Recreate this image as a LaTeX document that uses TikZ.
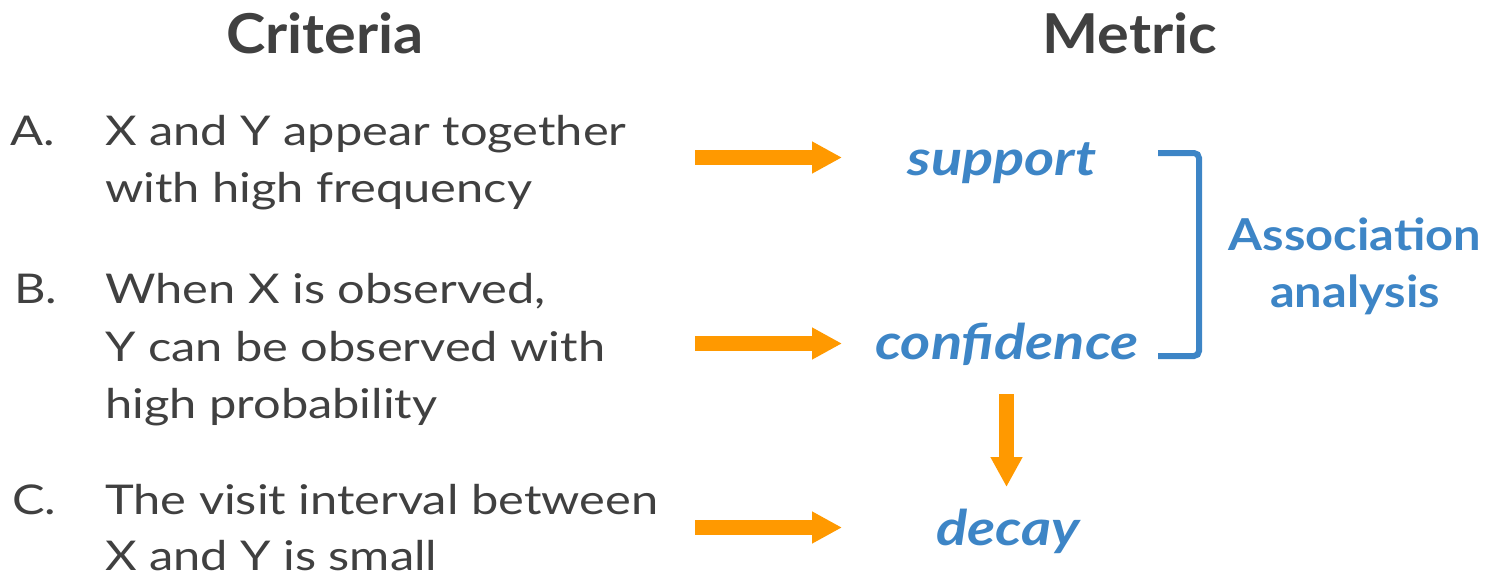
\documentclass[tikz,border=0pt]{standalone}
\usepackage{fontspec}
\setmainfont{Lato}
\newfontfamily\bodyfont[FakeStretch=1.19]{Lato}
\newfontfamily\headfont[FakeStretch=1.08]{Lato}
\newfontfamily\metricfont[FakeStretch=1.18]{Lato}
\newfontfamily\assocfont[FakeStretch=1.11]{Lato}
\usetikzlibrary{arrows.meta}
\definecolor{txt}{HTML}{404040}
\definecolor{blu}{HTML}{3D85C6}
\definecolor{org}{HTML}{FF9900}
\tikzset{
  body/.style={anchor=base west, inner sep=0pt, text=txt, font=\bodyfont\fontsize{41}{50}\selectfont},
  head/.style={anchor=base, inner sep=0pt, text=txt, font=\headfont\fontsize{55}{60}\selectfont\bfseries},
  metric/.style={anchor=base, inner sep=0pt, text=blu, font=\metricfont\fontsize{49}{50}\selectfont\bfseries\itshape},
  assoc/.style={anchor=base, inner sep=0pt, text=blu, font=\assocfont\fontsize{44}{50}\selectfont\bfseries},
  bigarrow/.style={draw=org, line width=15pt, -{Triangle[length=30pt,width=30pt]}},
  bracket/.style={draw=blu, line width=6pt, rounded corners=5pt}
}
\begin{document}
\begin{tikzpicture}[x=1pt,y=-1pt]
\useasboundingbox (0,0) rectangle (1488,576);
% headers
\node[head] (hcrit) at (325,53) {Criteria};
\node[head] (hmet) at (1130,53) {Metric};
% criteria
\node[body] (la) at (10,145) {A.};
\node[body] (a1) at (105,145) {X and Y appear together};
\node[body] (a2) at (105,202) {with high frequency};
\node[body] (lb) at (14,303) {B.};
\node[body] (b1) at (105,303) {When X is observed,};
\node[body] (b2) at (105,361) {Y can be observed with};
\node[body] (b3) at (105,418) {high probability};
\node[body] (lc) at (12,514) {C.};
\node[body] (c1) at (105,514) {The visit interval between};
\node[body] (c2) at (105,570) {X and Y is small};
% metrics
\node[metric] (sup) at (1002,175) {support};
\node[metric] (conf) at (1007,359) {confidence};
\node[metric] (dec) at (1008,545) {decay};
\node[assoc] (as1) at (1355,250) {Association};
\node[assoc] (as2) at (1355,307) {analysis};
% arrow end points
\coordinate (aS) at (695,157.5); \coordinate (aE) at (842,157.5);
\coordinate (bS) at (695,343.5); \coordinate (bE) at (842,343.5);
\coordinate (cS) at (695,527.5); \coordinate (cE) at (842,527.5);
\coordinate (vS) at (1006.5,394); \coordinate (vE) at (1006.5,487);
\draw[bigarrow] (aS) -- (aE);
\draw[bigarrow] (bS) -- (bE);
\draw[bigarrow] (cS) -- (cE);
\draw[bigarrow] (vS) -- (vE);
% bracket
\coordinate (brT) at (1158,153);
\coordinate (brB) at (1158,356);
\draw[bracket] (brT) -- (1199,153) -- (1199,356) -- (brB);
\end{tikzpicture}
\end{document}
